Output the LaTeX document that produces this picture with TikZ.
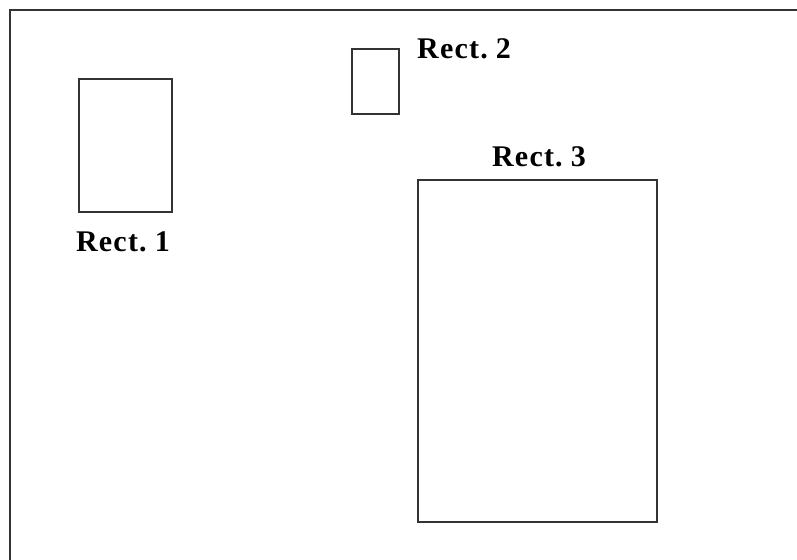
\documentclass[tikz,border=0pt]{standalone}
\usepackage{fontspec}
\setmainfont{Liberation Serif}
\newfontfamily\lblfont[LetterSpace=4,WordSpace=0.6]{Liberation Serif}
\begin{document}
\begin{tikzpicture}[x=1pt,y=-1pt,
  frameline/.style={draw=black!80,line width=2pt},
  box/.style={draw=black!80,line width=1.5pt,inner sep=0pt,outer sep=0pt,anchor=north west},
  lbl/.style={font=\lblfont\fontsize{30}{34}\selectfont\bfseries,inner sep=0pt,anchor=base}]
\useasboundingbox (0,0) rectangle (797,559);
\coordinate (fa) at (10,575);
\coordinate (fb) at (10,10);
\coordinate (fc) at (815,10);
\draw[frameline] (fa) -- (fb) -- (fc);
\node[box,minimum width=93pt,minimum height=133pt] (r1) at (79,79) {};
\node[box,minimum width=47pt,minimum height=65pt] (r2) at (352,49) {};
\node[box,minimum width=239pt,minimum height=342pt] (r3) at (418,180) {};
\node[lbl] (l1) at (123,251) {Rect. 1};
\node[lbl,anchor=base west] (l2) at (417,59) {Rect. 2};
\node[lbl] (l3) at (539,166) {Rect. 3};
\end{tikzpicture}
\end{document}
